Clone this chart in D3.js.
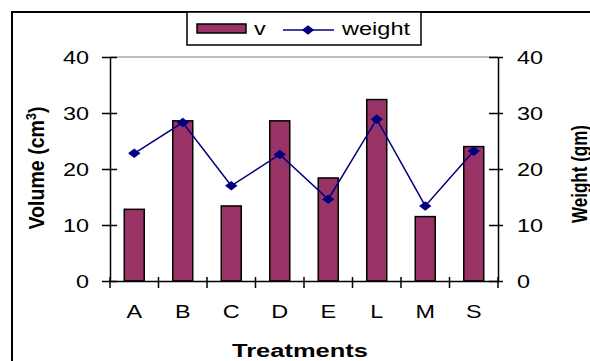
<!DOCTYPE html>
<html>
<head>
<meta charset="utf-8">
<script src="https://cdn.jsdelivr.net/npm/d3@7"></script>
<style>
  html, body { margin: 0; padding: 0; background: #fff; }
  svg { display: block; font-family: "Liberation Sans", Arial, sans-serif; }
</style>
</head>
<body>
<svg id="chart" width="590" height="361"></svg>
<script>
// Treatment categories and measured values
const categories = ["A", "B", "C", "D", "E", "L", "M", "S"];
const volume = [12.8, 28.6, 13.4, 28.6, 18.4, 32.4, 11.5, 24.0];
const weight = [22.8, 28.3, 17.0, 22.6, 14.6, 28.9, 13.4, 23.2];
const yTicks = [0, 10, 20, 30, 40];

const svg = d3.select("#chart");
const plotLeft = 110, plotRight = 498, plotTop = 57, plotBottom = 281;
const barColor = "#993366", lineColor = "#000080";
const stretch = 1.3; // wide glyph rendering for horizontal labels

const x = d3.scaleBand().domain(categories).range([plotLeft, plotRight])
  .paddingInner(0.588).paddingOuter(0.294);
const yL = d3.scaleLinear().domain([0, 40]).range([plotBottom, plotTop]);
const yR = d3.scaleLinear().domain([0, 40]).range([plotBottom, plotTop]);

function widen(sel) {
  sel.each(function () {
    const w = this.getComputedTextLength();
    d3.select(this).attr("textLength", w * stretch).attr("lengthAdjust", "spacingAndGlyphs");
  });
}

// Flat diamond marker
const diamond = "M0,-4.8L6.2,0L0,4.8L-6.2,0Z";

// Outer frame
svg.append("rect").attr("x", 12).attr("y", 12).attr("width", 600).attr("height", 400)
  .attr("fill", "none").attr("stroke", "#000").attr("stroke-width", 2);

// Plot area top edge
svg.append("line").attr("x1", plotLeft).attr("x2", plotRight).attr("y1", plotTop).attr("y2", plotTop)
  .attr("stroke", "#808080").attr("stroke-width", 1);

// Bars
svg.append("g").selectAll("rect").data(categories).join("rect")
  .attr("x", d => x(d))
  .attr("y", (d, i) => yL(volume[i]))
  .attr("width", x.bandwidth())
  .attr("height", (d, i) => yL(0) - yL(volume[i]))
  .attr("fill", barColor).attr("stroke", "#000").attr("stroke-width", 1.5);

// Weight line
const cx = d => x(d) + x.bandwidth() / 2;
svg.append("path")
  .datum(categories)
  .attr("d", d3.line().x(d => cx(d)).y((d, i) => yR(weight[i])))
  .attr("fill", "none").attr("stroke", lineColor).attr("stroke-width", 1.5);

svg.append("g").selectAll("path").data(categories).join("path")
  .attr("transform", (d, i) => `translate(${cx(d)},${yR(weight[i])})`)
  .attr("d", diamond).attr("fill", lineColor);

// Left axis
const axL = svg.append("g").attr("transform", `translate(${plotLeft},0)`)
  .call(d3.axisLeft(yL).tickValues(yTicks).tickSize(8).tickPadding(13).tickSizeOuter(0));
axL.selectAll(".tick line").attr("x2", -8).attr("x1", 7);
// Right axis
const axR = svg.append("g").attr("transform", `translate(${plotRight},0)`)
  .call(d3.axisRight(yR).tickValues(yTicks).tickSize(5).tickPadding(14).tickSizeOuter(0));
axR.selectAll(".tick line").attr("x1", -9).attr("x2", 5);
// Bottom axis with ticks between categories
const axB = svg.append("g").attr("transform", `translate(0,${plotBottom})`)
  .call(d3.axisBottom(x).tickSize(0).tickPadding(24).tickSizeOuter(0));
const bounds = d3.range(categories.length + 1).map(i => plotLeft + i * x.step());
axB.selectAll(".sep").data(bounds).join("line").attr("class", "sep")
  .attr("x1", d => d).attr("x2", d => d).attr("y1", -4).attr("y2", 7)
  .attr("stroke", "#000").attr("stroke-width", 1.5);

[axL, axR, axB].forEach(g => {
  g.select(".domain").attr("stroke", "#000").attr("stroke-width", 1.5);
  g.selectAll(".tick line").attr("stroke", "#000").attr("stroke-width", 1.5);
  g.selectAll("text").attr("font-size", 18).attr("fill", "#000")
    .attr("font-family", "Liberation Sans, Arial, sans-serif");
});
axL.selectAll(".tick text").attr("dy", "0.36em");
axR.selectAll(".tick text").attr("dy", "0.36em");
axB.selectAll(".tick text").attr("dy", "0.72em");
widen(axL.selectAll(".tick text"));
widen(axR.selectAll(".tick text"));
widen(axB.selectAll(".tick text"));
axR.selectAll(".tick text").attr("x", 19);

// Axis titles
const xt = svg.append("text").attr("x", 300).attr("y", 357).attr("text-anchor", "middle")
  .attr("font-size", 18).attr("font-weight", "bold").text("Treatments");
xt.attr("textLength", 136).attr("lengthAdjust", "spacingAndGlyphs");

const vt = svg.append("text").attr("transform", "translate(44,168) rotate(-90) scale(1,1.3)")
  .attr("text-anchor", "middle").attr("font-size", 17).attr("font-weight", "bold")
  .attr("textLength", 123).attr("lengthAdjust", "spacingAndGlyphs");
vt.append("tspan").text("Volume (cm");
vt.append("tspan").attr("baseline-shift", "super").attr("font-size", 11).text("3");
vt.append("tspan").text(")");

svg.append("text").attr("transform", "translate(587,174) rotate(-90) scale(1,1.3)")
  .attr("text-anchor", "middle").attr("font-size", 17).attr("font-weight", "bold")
  .attr("textLength", 98).attr("lengthAdjust", "spacingAndGlyphs")
  .text("Weight (gm)");

// Legend
const lg = svg.append("g");
lg.append("rect").attr("x", 187).attr("y", 12).attr("width", 234).attr("height", 33)
  .attr("fill", "#fff").attr("stroke", "#000").attr("stroke-width", 1.5);
lg.append("rect").attr("x", 197).attr("y", 24).attr("width", 49).attr("height", 9)
  .attr("fill", barColor).attr("stroke", "#000").attr("stroke-width", 1.5);
const lv = lg.append("text").attr("x", 254).attr("y", 35).attr("font-size", 18).text("v");
widen(lv);
lg.append("line").attr("x1", 283).attr("x2", 334).attr("y1", 30).attr("y2", 30)
  .attr("stroke", lineColor).attr("stroke-width", 1.5);
lg.append("path").attr("transform", "translate(308,30)").attr("d", diamond).attr("fill", lineColor);
const lw = lg.append("text").attr("x", 342).attr("y", 35).attr("font-size", 18).text("weight");
lw.attr("textLength", 68).attr("lengthAdjust", "spacingAndGlyphs");
</script>
</body>
</html>
